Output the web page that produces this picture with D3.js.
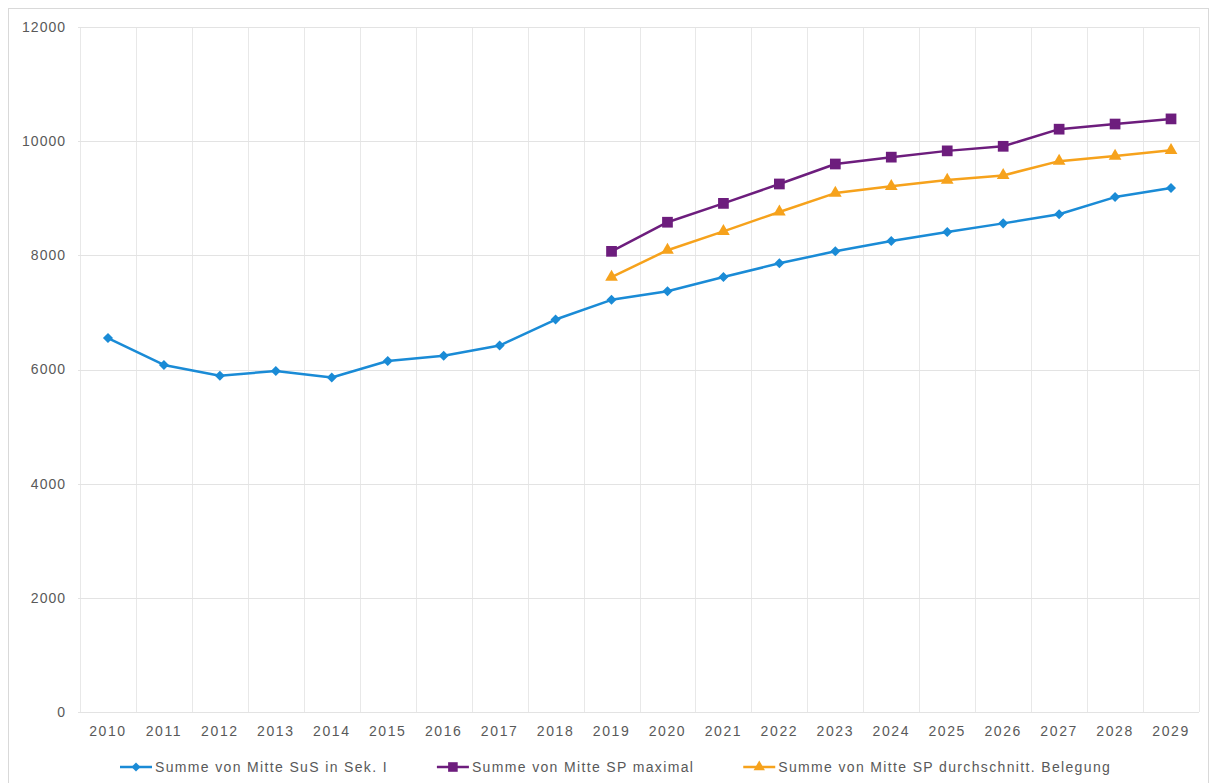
<!DOCTYPE html>
<html>
<head>
<meta charset="utf-8">
<script src="https://cdn.jsdelivr.net/npm/d3@7"></script>
<style>
  body { margin: 0; background: #fff; }
  text { font-family: "Liberation Sans", Arial, sans-serif; fill: #595959; }
</style>
</head>
<body>
<div id="chart"></div>
<script>
var years = ["2010", "2011", "2012", "2013", "2014", "2015", "2016", "2017", "2018", "2019",
             "2020", "2021", "2022", "2023", "2024", "2025", "2026", "2027", "2028", "2029"];

var sus   = [6550, 6080, 5890, 5975, 5860, 6150, 6240, 6420, 6875, 7220,
             7370, 7620, 7860, 8070, 8250, 8410, 8560, 8720, 9020, 9180];
var spMax = [null, null, null, null, null, null, null, null, null, 8070,
             8580, 8910, 9250, 9600, 9720, 9830, 9910, 10210, 10300, 10390];
var spAvg = [null, null, null, null, null, null, null, null, null, 7620,
             8090, 8420, 8760, 9090, 9210, 9320, 9400, 9650, 9740, 9840];

var yTicks = [0, 2000, 4000, 6000, 8000, 10000, 12000];

var series = [
    { name: "Summe von Mitte SuS in Sek. I",             values: sus,   color: "#1a8bd6", marker: d3.symbolDiamond2, size: 64 },
    { name: "Summe von Mitte SP maximal",                values: spMax, color: "#6d1d7d", marker: d3.symbolSquare,   size: 115 },
    { name: "Summe von Mitte SP durchschnitt. Belegung", values: spAvg, color: "#f6a21c", marker: d3.symbolTriangle, size: 70 }
];

var width = 1212, height = 783;
var plotLeft = 80, plotRight = 1199, plotTop = 27, plotBottom = 712;

var svg = d3.select("#chart").append("svg")
    .attr("width", width)
    .attr("height", height);

// outer frame
svg.append("rect")
    .attr("x", 8.5).attr("y", 8.5)
    .attr("width", 1200).attr("height", 800)
    .attr("fill", "none")
    .attr("stroke", "#d9d9d9");

var x = d3.scaleBand().domain(years).range([plotLeft, plotRight]);
var y = d3.scaleLinear().domain([0, 12000]).range([plotBottom, plotTop]);

// vertical grid at band edges
var edges = years.map(function (d) { return x(d); }).concat([plotRight]);
svg.append("g").selectAll("line")
    .data(edges)
    .enter().append("line")
    .attr("x1", function (d) { return Math.round(d) + 0.5; })
    .attr("x2", function (d) { return Math.round(d) + 0.5; })
    .attr("y1", plotTop).attr("y2", plotBottom)
    .attr("stroke", "#e8e8e8");

// horizontal grid
svg.append("g").selectAll("line")
    .data(yTicks)
    .enter().append("line")
    .attr("x1", plotLeft - 2).attr("x2", plotRight)
    .attr("y1", function (d) { return Math.round(y(d)) + 0.5; })
    .attr("y2", function (d) { return Math.round(y(d)) + 0.5; })
    .attr("stroke", "#e3e3e3");

// y axis labels
var yAxis = svg.append("g")
    .attr("transform", "translate(" + (plotLeft - 14) + ",0)")
    .call(d3.axisLeft(y).tickValues(yTicks).tickFormat(d3.format("d")).tickSize(0).tickPadding(0));
yAxis.select(".domain").remove();
yAxis.selectAll("text")
    .style("font-size", "14px")
    .style("letter-spacing", "1px")
    .attr("fill", "#595959");

// x axis labels
var xAxis = svg.append("g")
    .attr("transform", "translate(0," + (plotBottom + 14) + ")")
    .call(d3.axisBottom(x).tickSize(0).tickPadding(0));
xAxis.select(".domain").remove();
xAxis.selectAll("text")
    .style("font-size", "14px")
    .style("letter-spacing", "1.6px")
    .attr("fill", "#595959");

var cx = function (i) { return x(years[i]) + x.bandwidth() / 2; };

var line = d3.line()
    .defined(function (d) { return d != null; })
    .x(function (d, i) { return cx(i); })
    .y(function (d) { return y(d); });

series.forEach(function (s) {
    svg.append("path")
        .datum(s.values)
        .attr("fill", "none")
        .attr("stroke", s.color)
        .attr("stroke-width", 2.5)
        .attr("stroke-linejoin", "round")
        .attr("d", line);

    var pts = s.values.map(function (v, i) { return { v: v, i: i }; })
        .filter(function (p) { return p.v != null; });

    svg.append("g").selectAll("path")
        .data(pts)
        .enter().append("path")
        .attr("d", d3.symbol().type(s.marker).size(s.size))
        .attr("transform", function (p) { return "translate(" + cx(p.i) + "," + y(p.v) + ")"; })
        .attr("fill", s.color);
});

// legend
var legend = svg.append("g").attr("transform", "translate(0,767)");
var lx = 120;
series.forEach(function (s) {
    var g = legend.append("g").attr("transform", "translate(" + lx + ",0)");
    g.append("line")
        .attr("x1", 0).attr("x2", 32)
        .attr("stroke", s.color)
        .attr("stroke-width", 2.5);
    g.append("path")
        .attr("d", d3.symbol().type(s.marker).size(s.size * 0.8))
        .attr("transform", "translate(16,0)")
        .attr("fill", s.color);
    var t = g.append("text")
        .attr("x", 35)
        .attr("dy", "0.35em")
        .style("font-size", "14px")
        .style("letter-spacing", "1.35px")
        .text(s.name);
    lx += 35 + t.node().getComputedTextLength() + 49;
});
</script>
</body>
</html>
